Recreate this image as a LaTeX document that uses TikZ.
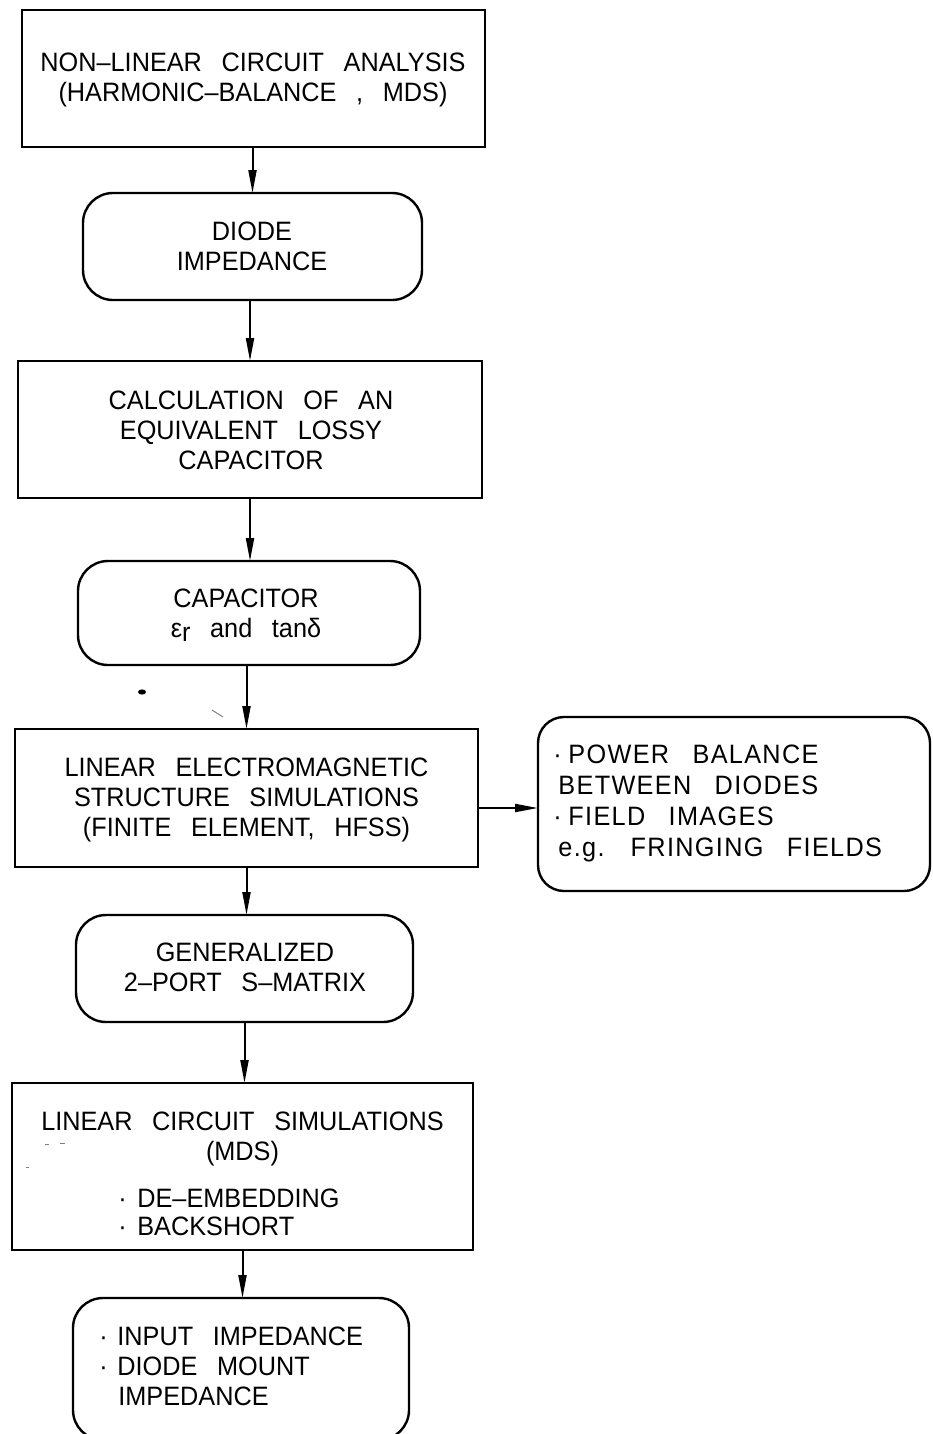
\documentclass[tikz,border=0pt]{standalone}
\usepackage{fontspec}
\setmainfont{Liberation Sans}[WordSpace=2.8, FakeStretch=0.95]
\usetikzlibrary{arrows.meta}
\newcommand\bul[1]{\makebox[#1][l]{·}}
\begin{document}
\begin{tikzpicture}[x=0.5pt,y=-0.5pt,
  box/.style={draw, line width=1.2pt, inner sep=0pt, outer sep=0pt},
  rbox/.style={box, rounded corners=15pt},
  txt/.style={font=\fontsize{13.3}{15}\selectfont, inner sep=0pt, align=center, anchor=base},
  ltxt/.style={txt, align=left, anchor=base west},
  arr/.style={line width=1pt, -{Triangle[length=11.5pt,width=4pt]}}]
\useasboundingbox (0,0) rectangle (932,1434);
\clip (0,0) rectangle (932,1434);
% boxes
\node[box,  minimum width=231.5pt, minimum height=68.5pt] (b1) at (253.5,78.5) {};
\node[rbox, minimum width=169.5pt, minimum height=53.5pt] (b2) at (252.5,246.5) {};
\node[box,  minimum width=232pt,   minimum height=68.5pt] (b3) at (250,429.5) {};
\node[rbox, minimum width=171pt,   minimum height=52pt]   (b4) at (249,613) {};
\node[box,  minimum width=231.5pt, minimum height=69pt]   (b5) at (246.5,798) {};
\node[rbox, rounded corners=13pt, minimum width=196pt, minimum height=87pt] (r) at (734,804) {};
\node[rbox, minimum width=168.5pt, minimum height=53.5pt] (b6) at (244.5,968.5) {};
\node[box,  minimum width=230.5pt, minimum height=83.5pt] (b7) at (242.5,1166.5) {};
\node[rbox, minimum width=168pt,   minimum height=71pt]   (b8) at (241,1369) {};
% texts (anchor base = baseline of the last line)
\node[txt] (t1) at (253,102) {NON–LINEAR CIRCUIT ANALYSIS\\(HARMONIC–BALANCE , MDS)};
\node[txt] (t2) at (252,270) {DIODE\\IMPEDANCE};
\node[txt] (t3) at (251,469) {CALCULATION OF AN\\EQUIVALENT LOSSY\\CAPACITOR};
\node[txt] (t4) at (246,637) {CAPACITOR\\ε\raisebox{-0.35ex}{r} and tanδ};
\node[txt] (t5) at (246.5,836) {LINEAR ELECTROMAGNETIC\\STRUCTURE SIMULATIONS\\(FINITE ELEMENT, HFSS)};
\node[ltxt, font=\fontsize{13.3}{15.5}\selectfont\addfontfeature{LetterSpace=5}] (tr) at (553,856) {\bul{7.5pt}POWER BALANCE\\\hspace*{2.5pt}BETWEEN DIODES\\\bul{7.5pt}FIELD IMAGES\\\hspace*{2.5pt}e.g. FRINGING FIELDS};
\node[txt] (t6) at (245,991) {GENERALIZED\\2–PORT S–MATRIX};
\node[txt] (t7a) at (242.5,1160) {LINEAR CIRCUIT SIMULATIONS\\(MDS)};
\node[ltxt, font=\fontsize{13.3}{14}\selectfont] (t7b) at (118,1235) {\bul{9.5pt}DE–EMBEDDING\\\bul{9.5pt}BACKSHORT};
\node[ltxt] (t8) at (99,1405) {\bul{9pt}INPUT IMPEDANCE\\\bul{9pt}DIODE MOUNT\\\hspace*{9.5pt}IMPEDANCE};
% connectors
\draw[arr] (b2.north |- b1.south) -- (b2.north);
\draw[arr] (b3.north |- b2.south) -- (b3.north);
\draw[arr] (b3.south) -- (b3.south |- b4.north);
\draw[arr] (b5.north |- b4.south) -- (b5.north);
\draw[arr] (b5.south) -- (b5.south |- b6.north);
\draw[arr] (b6.south) -- (b6.south |- b7.north);
\draw[arr] (b7.south) -- (b7.south |- b8.north);
\draw[arr] ([yshift=-5pt]b5.east) -- ([yshift=-5pt]b5.east -| r.west);
% scan specks
\fill (142,692) ellipse (2pt and 1.3pt);
\draw[line width=0.5pt, gray] (212,710) -- (223,717);
\draw[line width=0.5pt, gray] (45,1144) -- (49,1144) (60,1143) -- (65,1143) (26,1167) -- (29,1167);
\end{tikzpicture}
\end{document}
